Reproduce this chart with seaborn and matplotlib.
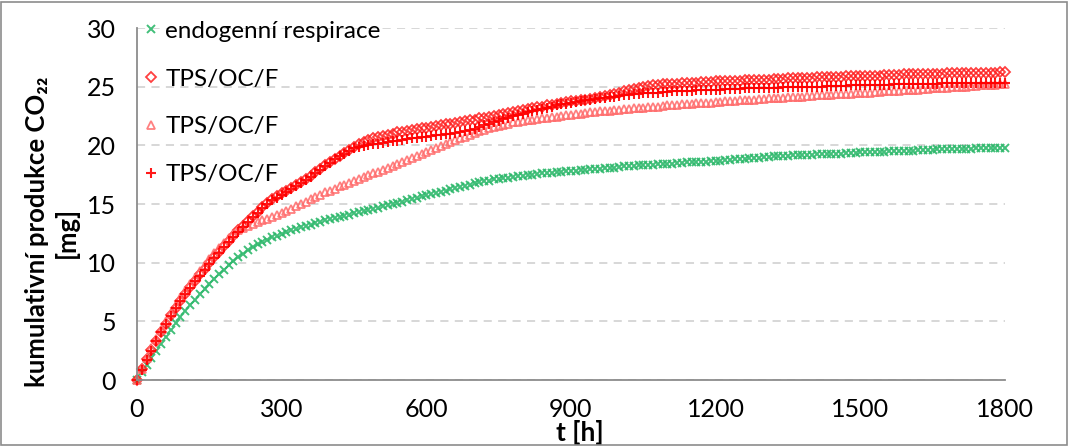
import numpy as np
import pandas as pd
import matplotlib
matplotlib.use("Agg")
import matplotlib.pyplot as plt
import seaborn as sns
from matplotlib.patches import Rectangle

# ---------------- data ----------------
hours = list(range(0, 1801, 10))

endogenni = [
    0, 0.65, 1.3, 1.9, 2.5, 3.1, 3.7, 4.3, 4.85, 5.35,
    5.85, 6.35, 6.85, 7.3, 7.75, 8.2, 8.6, 9.0, 9.4, 9.8,
    10.15, 10.45, 10.75, 11.05, 11.3, 11.55, 11.75, 11.95, 12.15, 12.3,
    12.45, 12.6, 12.75, 12.9, 13.0, 13.15, 13.25, 13.4, 13.5, 13.6,
    13.7, 13.8, 13.9, 14.0, 14.1, 14.2, 14.3, 14.4, 14.5, 14.6,
    14.7, 14.8, 14.9, 15.0, 15.1, 15.2, 15.3, 15.4, 15.55, 15.65,
    15.75, 15.85, 15.95, 16.05, 16.15, 16.25, 16.35, 16.45, 16.55, 16.65,
    16.75, 16.85, 16.95, 17.0, 17.1, 17.15, 17.2, 17.25, 17.3, 17.35,
    17.4, 17.45, 17.5, 17.55, 17.6, 17.6, 17.65, 17.7, 17.75, 17.8,
    17.8, 17.85, 17.9, 17.9, 17.95, 18.0, 18.0, 18.05, 18.1, 18.1,
    18.15, 18.2, 18.2, 18.25, 18.3, 18.3, 18.35, 18.35, 18.4, 18.4,
    18.45, 18.45, 18.5, 18.5, 18.55, 18.55, 18.6, 18.6, 18.6, 18.65,
    18.65, 18.7, 18.75, 18.75, 18.8, 18.85, 18.85, 18.9, 18.95, 18.95,
    19.0, 19.0, 19.05, 19.05, 19.1, 19.1, 19.15, 19.15, 19.2, 19.2,
    19.2, 19.25, 19.25, 19.25, 19.3, 19.3, 19.3, 19.35, 19.35, 19.35,
    19.4, 19.4, 19.4, 19.45, 19.45, 19.45, 19.5, 19.5, 19.5, 19.55,
    19.55, 19.55, 19.6, 19.6, 19.6, 19.6, 19.65, 19.65, 19.65, 19.7,
    19.7, 19.7, 19.7, 19.7, 19.75, 19.75, 19.75, 19.75, 19.8, 19.8,
    19.8,
]

tps_diamond = [
    0, 0.9, 1.75, 2.55, 3.35, 4.1, 4.8, 5.5, 6.15, 6.75,
    7.35, 7.9, 8.45, 9.0, 9.5, 10.0, 10.5, 10.95, 11.4, 11.85,
    12.3, 12.75, 13.15, 13.55, 13.95, 14.35, 14.75, 15.1, 15.4, 15.65,
    15.9, 16.15, 16.4, 16.65, 16.9, 17.15, 17.4, 17.7, 18.0, 18.3,
    18.6, 18.85, 19.1, 19.35, 19.6, 19.85, 20.1, 20.3, 20.45, 20.6,
    20.7, 20.8, 20.9, 21.0, 21.1, 21.15, 21.25, 21.3, 21.4, 21.45,
    21.5, 21.6, 21.65, 21.7, 21.8, 21.85, 21.9, 22.0, 22.05, 22.15,
    22.2, 22.3, 22.35, 22.45, 22.5, 22.6, 22.7, 22.75, 22.85, 22.9,
    23.0, 23.1, 23.15, 23.25, 23.3, 23.4, 23.45, 23.55, 23.6, 23.7,
    23.75, 23.8, 23.85, 23.9, 23.95, 24.0, 24.1, 24.2, 24.3, 24.4,
    24.5, 24.6, 24.7, 24.8, 24.9, 25.0, 25.05, 25.1, 25.15, 25.2,
    25.2, 25.25, 25.25, 25.3, 25.3, 25.35, 25.35, 25.4, 25.4, 25.4,
    25.45, 25.45, 25.45, 25.5, 25.5, 25.5, 25.55, 25.55, 25.55, 25.6,
    25.6, 25.6, 25.65, 25.65, 25.65, 25.7, 25.7, 25.7, 25.75, 25.75,
    25.75, 25.8, 25.8, 25.8, 25.85, 25.85, 25.85, 25.9, 25.9, 25.9,
    25.9, 25.95, 25.95, 25.95, 25.95, 26.0, 26.0, 26.0, 26.0, 26.05,
    26.05, 26.05, 26.05, 26.1, 26.1, 26.1, 26.1, 26.1, 26.15, 26.15,
    26.15, 26.15, 26.15, 26.2, 26.2, 26.2, 26.2, 26.2, 26.2, 26.25,
    26.25,
]

tps_triangle = [
    0, 0.95, 1.85, 2.7, 3.5, 4.25, 5.0, 5.7, 6.35, 6.95,
    7.55, 8.15, 8.7, 9.25, 9.8, 10.3, 10.8, 11.25, 11.7, 12.1,
    12.45, 12.75, 12.95, 13.15, 13.3, 13.45, 13.6, 13.75, 13.9, 14.05,
    14.2, 14.4, 14.6, 14.8, 15.0, 15.2, 15.4, 15.6, 15.8, 16.0,
    16.15, 16.3, 16.5, 16.65, 16.8, 17.0, 17.15, 17.3, 17.45, 17.6,
    17.75, 17.9, 18.05, 18.2, 18.4, 18.55, 18.75, 18.9, 19.1, 19.25,
    19.45, 19.6, 19.8, 19.95, 20.1, 20.3, 20.45, 20.6, 20.75, 20.9,
    21.05, 21.2, 21.3, 21.45, 21.55, 21.65, 21.75, 21.85, 21.95, 22.0,
    22.1, 22.15, 22.2, 22.25, 22.3, 22.35, 22.4, 22.45, 22.5, 22.55,
    22.6, 22.65, 22.7, 22.75, 22.8, 22.85, 22.9, 22.95, 22.95, 23.0,
    23.05, 23.1, 23.1, 23.15, 23.2, 23.2, 23.25, 23.3, 23.3, 23.35,
    23.4, 23.4, 23.45, 23.5, 23.5, 23.55, 23.6, 23.6, 23.65, 23.65,
    23.7, 23.7, 23.75, 23.8, 23.8, 23.85, 23.85, 23.9, 23.9, 23.95,
    23.95, 24.0, 24.0, 24.05, 24.05, 24.1, 24.1, 24.15, 24.15, 24.2,
    24.2, 24.25, 24.25, 24.3, 24.3, 24.35, 24.35, 24.4, 24.4, 24.45,
    24.45, 24.5, 24.5, 24.55, 24.55, 24.6, 24.6, 24.65, 24.65, 24.7,
    24.7, 24.75, 24.75, 24.8, 24.8, 24.85, 24.85, 24.9, 24.9, 24.95,
    24.95, 25.0, 25.0, 25.05, 25.05, 25.1, 25.1, 25.15, 25.15, 25.2,
    25.2,
]

tps_plus = [
    0, 0.85, 1.7, 2.5, 3.3, 4.05, 4.75, 5.45, 6.1, 6.7,
    7.3, 7.85, 8.4, 8.9, 9.4, 9.9, 10.4, 10.85, 11.3, 11.75,
    12.2, 12.65, 13.05, 13.45, 13.85, 14.25, 14.65, 15.0, 15.3, 15.55,
    15.8, 16.05, 16.3, 16.55, 16.8, 17.05, 17.3, 17.6, 17.9, 18.2,
    18.5, 18.8, 19.05, 19.3, 19.55, 19.75, 19.85, 19.95, 20.0, 20.1,
    20.15, 20.2, 20.3, 20.35, 20.4, 20.45, 20.5, 20.6, 20.65, 20.7,
    20.75, 20.8, 20.85, 20.9, 20.95, 21.0, 21.05, 21.1, 21.2, 21.3,
    21.4, 21.55, 21.7, 21.85, 22.0, 22.1, 22.25, 22.35, 22.5, 22.6,
    22.7, 22.8, 22.9, 23.0, 23.1, 23.2, 23.3, 23.4, 23.5, 23.55,
    23.65, 23.7, 23.8, 23.85, 23.9, 23.95, 24.0, 24.05, 24.1, 24.15,
    24.2, 24.25, 24.3, 24.35, 24.4, 24.45, 24.45, 24.5, 24.5, 24.55,
    24.55, 24.6, 24.6, 24.6, 24.65, 24.65, 24.7, 24.7, 24.7, 24.75,
    24.75, 24.75, 24.8, 24.8, 24.8, 24.8, 24.85, 24.85, 24.85, 24.85,
    24.9, 24.9, 24.9, 24.9, 24.95, 24.95, 24.95, 24.95, 25.0, 25.0,
    25.0, 25.0, 25.0, 25.05, 25.05, 25.05, 25.05, 25.05, 25.1, 25.1,
    25.1, 25.1, 25.1, 25.15, 25.15, 25.15, 25.15, 25.2, 25.2, 25.2,
    25.2, 25.2, 25.25, 25.25, 25.25, 25.25, 25.25, 25.3, 25.3, 25.3,
    25.3, 25.3, 25.3, 25.35, 25.35, 25.35, 25.35, 25.35, 25.35, 25.35,
    25.35,
]

series_labels = ["endogenní respirace", "TPS/OC/F", "TPS/OC/F", "TPS/OC/F"]
y_ticks = [0, 5, 10, 15, 20, 25, 30]
x_ticks = [0, 300, 600, 900, 1200, 1500, 1800]

for s in (endogenni, tps_diamond, tps_triangle, tps_plus):
    assert len(s) == len(hours), len(s)

# ---------------- style ----------------
sns.set_theme(style="white")
plt.rcParams["font.family"] = ["Lato", "DejaVu Sans"]

GREEN = "#2DB86B"
RED = "#FF1E1E"
LIGHT_RED = "#FF6A6A"
PLUS_RED = "#FF0000"
AXIS_GRAY = "#8C8C8C"

fig = plt.figure(figsize=(10.68, 4.46), dpi=100)
ax = fig.add_axes([137 / 1068, 1 - 380 / 446, 868 / 1068, 352 / 446])

styles = [
    (endogenni, dict(marker="x", color=GREEN, markersize=5.5, markeredgewidth=1.4,
                     markeredgecolor=GREEN, markerfacecolor=GREEN, alpha=0.9)),
    (tps_diamond, dict(marker="D", color=RED, markersize=5.3, markeredgewidth=1.3,
                       markeredgecolor=RED, markerfacecolor="none", alpha=0.85)),
    (tps_triangle, dict(marker="^", color=LIGHT_RED, markersize=6.2, markeredgewidth=1.3,
                        markeredgecolor=LIGHT_RED, markerfacecolor="none", alpha=0.85)),
    (tps_plus, dict(marker="+", color=PLUS_RED, markersize=7, markeredgewidth=1.5,
                    markeredgecolor=PLUS_RED, markerfacecolor=PLUS_RED, alpha=0.9)),
]

for (vals, kw), lab in zip(styles, series_labels):
    sns.lineplot(x=hours, y=vals, ax=ax, linestyle="none", label=lab,
                 clip_on=False, **kw)

ax.set_xlim(0, 1800)
ax.set_ylim(0, 30)
ax.set_xticks(x_ticks)
ax.set_yticks(y_ticks)
ax.set_xticklabels([str(v) for v in x_ticks])
ax.set_yticklabels([str(v) for v in y_ticks])

ax.yaxis.grid(True, linestyle=(0, (4.5, 3.5)), color="#D4D4D4", linewidth=1.3)
ax.xaxis.grid(False)
ax.set_axisbelow(True)

for side in ("top", "right"):
    ax.spines[side].set_visible(False)
for side in ("left", "bottom"):
    ax.spines[side].set_color(AXIS_GRAY)
    ax.spines[side].set_linewidth(1.3)

ax.tick_params(axis="both", which="major", direction="out", length=6, width=1.3,
               color=AXIS_GRAY, labelsize=18, labelcolor="black")
ax.tick_params(axis="x", pad=7)
ax.tick_params(axis="y", pad=9)

ax.set_xlabel("t [h]", fontsize=19, fontweight="bold", color="black")
ax.xaxis.set_label_coords(0.51, -0.113)
ax.set_ylabel("kumulativní produkce CO\u2082\u2082\n[mg]", fontsize=18.5,
              fontweight="bold", color="black", linespacing=1.25)
ax.yaxis.set_label_coords(-0.067, 0.42)

leg = ax.legend(loc="upper left", bbox_to_anchor=(0.006, 1.02), frameon=False,
                fontsize=17.5, handlelength=0.7, handletextpad=0.25,
                labelspacing=1.1, borderaxespad=0, borderpad=0, numpoints=1)
for t in leg.get_texts():
    t.set_color("black")

fig.patches.append(Rectangle((0.0012, 0.0025), 0.9975, 0.994, transform=fig.transFigure,
                             fill=False, edgecolor="#8C8C8C", linewidth=1.2))

fig.savefig("out.png", dpi=100)
